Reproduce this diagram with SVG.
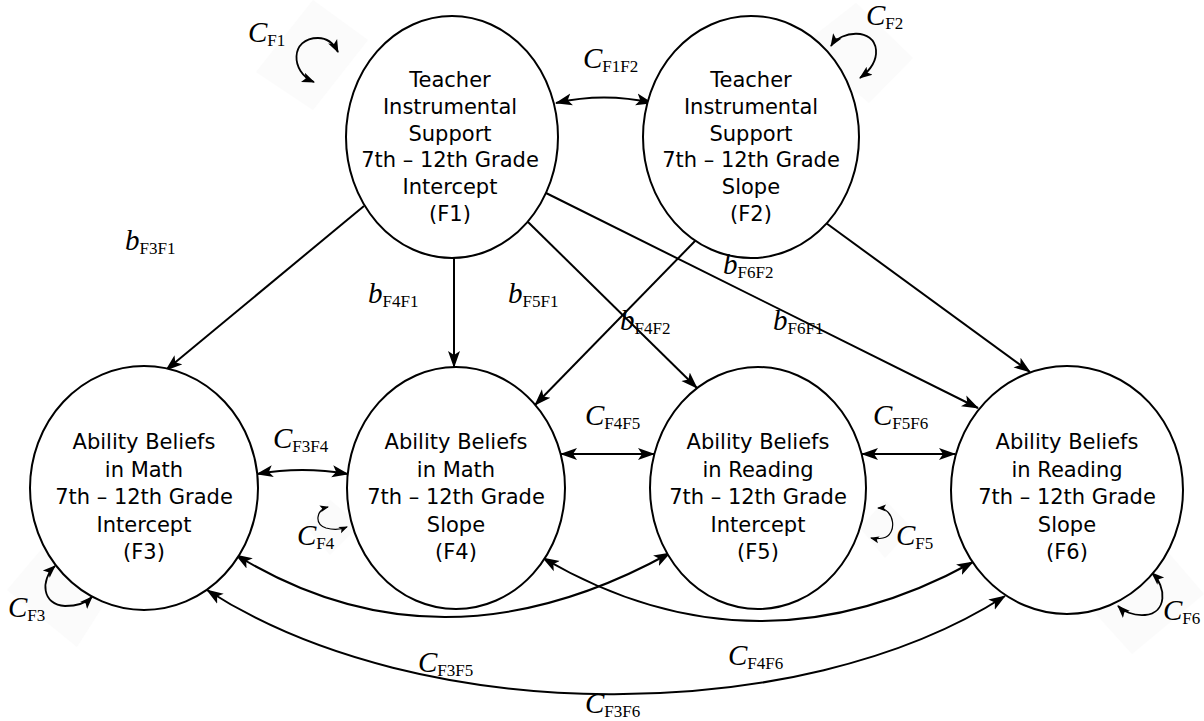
<svg xmlns="http://www.w3.org/2000/svg" width="1204" height="721" viewBox="0 0 1204 721">
<style>
.node ellipse{fill:#fff;stroke:#000;stroke-width:2}
.node text{font-family:"DejaVu Sans",sans-serif;font-size:21px;text-anchor:middle;fill:#000}
.conn{fill:none;stroke:#000;stroke-width:2}
.loop{fill:none;stroke:#000;stroke-width:1.8}
.sloop{fill:none;stroke:#000;stroke-width:1.2}
.bg{fill:#fbfbfb}
.lbl{font-family:"Liberation Serif","Times New Roman",serif;font-size:29px;font-style:italic;fill:#000}
.sub{font-size:17px;font-style:normal}
</style>
<defs>
<marker id="ah" markerUnits="userSpaceOnUse" markerWidth="18" markerHeight="14" refX="16" refY="6" orient="auto-start-reverse" viewBox="0 0 18 12">
<path d="M0,0 L17,6 L0,12 L4,6 Z" fill="#000"/>
</marker>
<marker id="ahs" markerUnits="userSpaceOnUse" markerWidth="14" markerHeight="12" refX="12" refY="5" orient="auto-start-reverse" viewBox="0 0 14 10">
<path d="M0,0 L13,5 L0,10 L3,5 Z" fill="#000"/>
</marker>
<marker id="aht" markerUnits="userSpaceOnUse" markerWidth="10" markerHeight="8" refX="8" refY="3.5" orient="auto-start-reverse" viewBox="0 0 10 7">
<path d="M0,0 L9,3.5 L0,7 L2,3.5 Z" fill="#000"/>
</marker>
</defs>
<rect width="1204" height="721" fill="#fff"/>
<g id="backgrounds">
<polygon class="bg" points="313,0 368,40 313,110 256,72"/>
<polygon class="bg" points="856,3 913,58 869,103 801,46"/>
<polygon class="bg" points="45,545 110,595 77,647 7,590"/>
<polygon class="bg" points="1155,537 1204,594 1132,654 1085,602"/>
<polygon class="bg" points="330,500 360,525 330,555 305,525"/>
<polygon class="bg" points="885,500 912,528 885,558 860,528"/>
</g>
<g id="connectors">
<path class="conn" d="M556,103 Q604,92 652,103" marker-start="url(#ah)" marker-end="url(#ah)"/>
<path class="conn" d="M364,206 L166,370" marker-end="url(#ah)"/>
<path class="conn" d="M454,258 L454,367" marker-end="url(#ah)"/>
<path class="conn" d="M528,222 L697,388" marker-end="url(#ah)"/>
<path class="conn" d="M546,193 L978,408" marker-end="url(#ah)"/>
<path class="conn" d="M696,240 L535,405" marker-end="url(#ah)"/>
<path class="conn" d="M826,223 L1030,372" marker-end="url(#ah)"/>
<path class="conn" d="M257,474 Q302,466 348,474" marker-start="url(#ah)" marker-end="url(#ah)"/>
<path class="conn" d="M561,454 L654,454" marker-start="url(#ah)" marker-end="url(#ah)"/>
<path class="conn" d="M862,454 L955,454" marker-start="url(#ah)" marker-end="url(#ah)"/>
<path class="conn" d="M236,555 Q440,680 670,553" marker-start="url(#ah)" marker-end="url(#ah)"/>
<path class="conn" d="M543,558 Q755,682 973,562" marker-start="url(#ah)" marker-end="url(#ah)"/>
<path class="conn" d="M207,590 C420,728 800,728 1005,596" marker-start="url(#ah)" marker-end="url(#ah)"/>
<path class="loop" d="M314,82 C290,72 290,38 318,38 C328,38 334,44 338,52" marker-start="url(#ahs)" marker-end="url(#ahs)"/>
<path class="loop" d="M831,46 C841,30 874,28 876,50 C877,63 868,72 860,78" marker-start="url(#ahs)" marker-end="url(#ahs)"/>
<path class="loop" d="M55,566 C40,580 42,605 65,606 C78,606 87,602 92,597" marker-start="url(#ahs)" marker-end="url(#ahs)"/>
<path class="loop" d="M1152,573 C1167,587 1167,613 1145,615 C1133,616 1123,611 1118,606" marker-start="url(#ahs)" marker-end="url(#ahs)"/>
<path class="sloop" d="M328,507 C316,510 314,524 326,528 C333,530 340,530 347,527" marker-start="url(#aht)" marker-end="url(#aht)"/>
<path class="sloop" d="M878,508 C895,508 898,535 883,538 C878,539 875,539 871,538" marker-start="url(#aht)" marker-end="url(#aht)"/>
</g>
<g id="F1" class="node">
<ellipse cx="452" cy="137" rx="106" ry="121"/>
<text x="450" y="87">Teacher</text>
<text x="450" y="114">Instrumental</text>
<text x="450" y="140.5">Support</text>
<text x="450" y="167">7th – 12th Grade</text>
<text x="450" y="194">Intercept</text>
<text x="450" y="220.5">(F1)</text>
</g>
<g id="F2" class="node">
<ellipse cx="751" cy="137" rx="108" ry="121"/>
<text x="751" y="87">Teacher</text>
<text x="751" y="114">Instrumental</text>
<text x="751" y="140.5">Support</text>
<text x="751" y="167">7th – 12th Grade</text>
<text x="751" y="194">Slope</text>
<text x="751" y="220.5">(F2)</text>
</g>
<g id="F3" class="node">
<ellipse cx="144" cy="488" rx="114" ry="122"/>
<text x="144" y="449">Ability Beliefs</text>
<text x="144" y="476.5">in Math</text>
<text x="144" y="504">7th – 12th Grade</text>
<text x="144" y="531.5">Intercept</text>
<text x="144" y="559">(F3)</text>
</g>
<g id="F4" class="node">
<ellipse cx="456" cy="488" rx="109" ry="121"/>
<text x="456" y="449">Ability Beliefs</text>
<text x="456" y="476.5">in Math</text>
<text x="456" y="504">7th – 12th Grade</text>
<text x="456" y="531.5">Slope</text>
<text x="456" y="559">(F4)</text>
</g>
<g id="F5" class="node">
<ellipse cx="758" cy="488" rx="108" ry="121"/>
<text x="758" y="449">Ability Beliefs</text>
<text x="758" y="476.5">in Reading</text>
<text x="758" y="504">7th – 12th Grade</text>
<text x="758" y="531.5">Intercept</text>
<text x="758" y="559">(F5)</text>
</g>
<g id="F6" class="node">
<ellipse cx="1067" cy="490" rx="116" ry="124"/>
<text x="1067" y="449">Ability Beliefs</text>
<text x="1067" y="476.5">in Reading</text>
<text x="1067" y="504">7th – 12th Grade</text>
<text x="1067" y="531.5">Slope</text>
<text x="1067" y="559">(F6)</text>
</g>
<g id="labels">
<text class="lbl" x="248" y="42">C<tspan class="sub" dy="4">F1</tspan></text>
<text class="lbl" x="866" y="25">C<tspan class="sub" dy="4">F2</tspan></text>
<text class="lbl" x="583" y="68">C<tspan class="sub" dy="4">F1F2</tspan></text>
<text class="lbl" x="125" y="250">b<tspan class="sub" dy="4">F3F1</tspan></text>
<text class="lbl" x="368" y="303">b<tspan class="sub" dy="4">F4F1</tspan></text>
<text class="lbl" x="508" y="303">b<tspan class="sub" dy="4">F5F1</tspan></text>
<text class="lbl" x="620" y="330">b<tspan class="sub" dy="4">F4F2</tspan></text>
<text class="lbl" x="773" y="330">b<tspan class="sub" dy="4">F6F1</tspan></text>
<text class="lbl" x="723" y="274">b<tspan class="sub" dy="4">F6F2</tspan></text>
<text class="lbl" x="273" y="448">C<tspan class="sub" dy="4">F3F4</tspan></text>
<text class="lbl" x="585" y="425">C<tspan class="sub" dy="4">F4F5</tspan></text>
<text class="lbl" x="873" y="425">C<tspan class="sub" dy="4">F5F6</tspan></text>
<text class="lbl" x="297" y="545">C<tspan class="sub" dy="4">F4</tspan></text>
<text class="lbl" x="896" y="545">C<tspan class="sub" dy="4">F5</tspan></text>
<text class="lbl" x="8" y="617">C<tspan class="sub" dy="4">F3</tspan></text>
<text class="lbl" x="1163" y="620">C<tspan class="sub" dy="4">F6</tspan></text>
<text class="lbl" x="418" y="672">C<tspan class="sub" dy="4">F3F5</tspan></text>
<text class="lbl" x="728" y="665">C<tspan class="sub" dy="4">F4F6</tspan></text>
<text class="lbl" x="585" y="713">C<tspan class="sub" dy="4">F3F6</tspan></text>
</g>
</svg>
